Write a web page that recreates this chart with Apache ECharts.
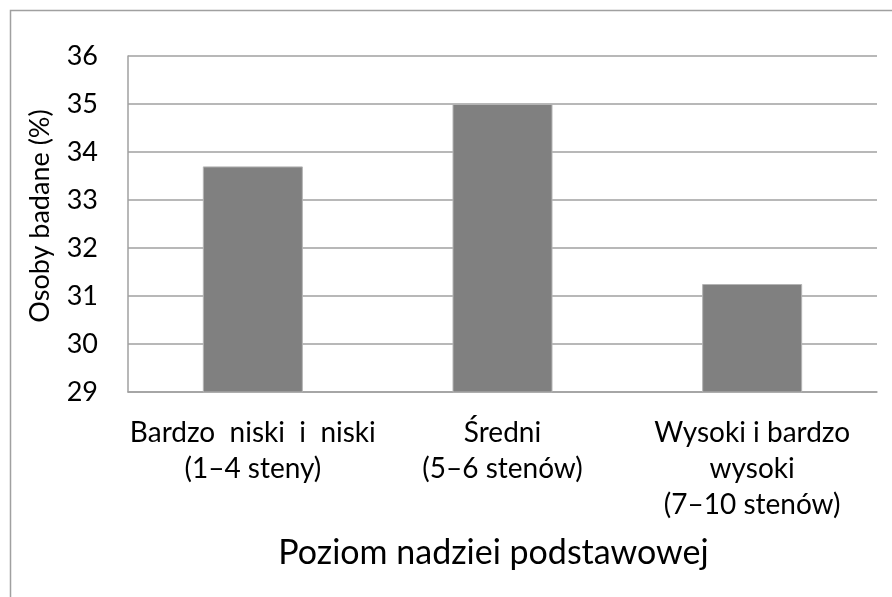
<!DOCTYPE html>
<html>
<head>
<meta charset="utf-8">
<script src="https://cdn.jsdelivr.net/npm/echarts@6/dist/echarts.min.js"></script>
<style>
  html, body { margin: 0; padding: 0; background: #fff; }
  #chart { width: 892px; height: 597px; }
</style>
</head>
<body>
<div id="chart"></div>
<script>
  // categories and values
  const categories = [
    "Bardzo  niski  i  niski\n(1–4 steny)",
    "Średni\n(5–6 stenów)",
    "Wysoki i bardzo\nwysoki\n(7–10 stenów)"
  ];
  const values = [33.7, 35.0, 31.25];
  const yMin = 29;
  const yMax = 36;

  const font = "Lato, 'Open Sans', sans-serif";
  const gray = "#a0a0a0";

  let myChart = echarts.init(document.getElementById("chart"));
  let option = {
    backgroundColor: "#fff",
    animation: false,
    textStyle: { fontFamily: font, color: "#000" },
    graphic: [
      {
        // chart frame, only left and top edges are visible
        type: "rect",
        left: 8,
        top: 8,
        shape: { width: 1000, height: 1000 },
        style: { fill: "none", stroke: gray, lineWidth: 1.5 },
        silent: true,
      },
    ],
    grid: {
      left: 128,
      top: 56,
      right: 15,
      bottom: 205,
      containLabel: false,
    },
    xAxis: {
      type: "category",
      data: categories,
      name: "Poziom nadziei podstawowej",
      nameLocation: "middle",
      nameGap: 144,
      nameTextStyle: { fontSize: 34, fontFamily: font, color: "#000", padding: [0, 18, 0, 0] },
      axisLine: { show: true, lineStyle: { color: gray, width: 1.5 } },
      axisTick: { show: false },
      axisLabel: {
        interval: 0,
        margin: 23,
        fontSize: 28,
        lineHeight: 36,
        color: "#000",
        fontFamily: font,
      },
    },
    yAxis: {
      type: "value",
      min: yMin,
      max: yMax,
      interval: 1,
      name: "Osoby badane (%)",
      nameLocation: "middle",
      nameGap: 74,
      nameTextStyle: { fontSize: 27, fontFamily: font, color: "#000", padding: [0, 0, 0, 16] },
      axisLine: { show: true, lineStyle: { color: gray, width: 1.5 } },
      axisTick: { show: false },
      axisLabel: { margin: 30, fontSize: 27, color: "#000", fontFamily: font },
      splitLine: { show: true, lineStyle: { color: gray, width: 1.5 } },
    },
    series: [
      {
        type: "bar",
        data: values,
        barWidth: 100,
        itemStyle: { color: "#808080", borderColor: "#b4b4b4", borderWidth: 1 },
      },
    ],
  };
  myChart.setOption(option);
</script>
</body>
</html>
